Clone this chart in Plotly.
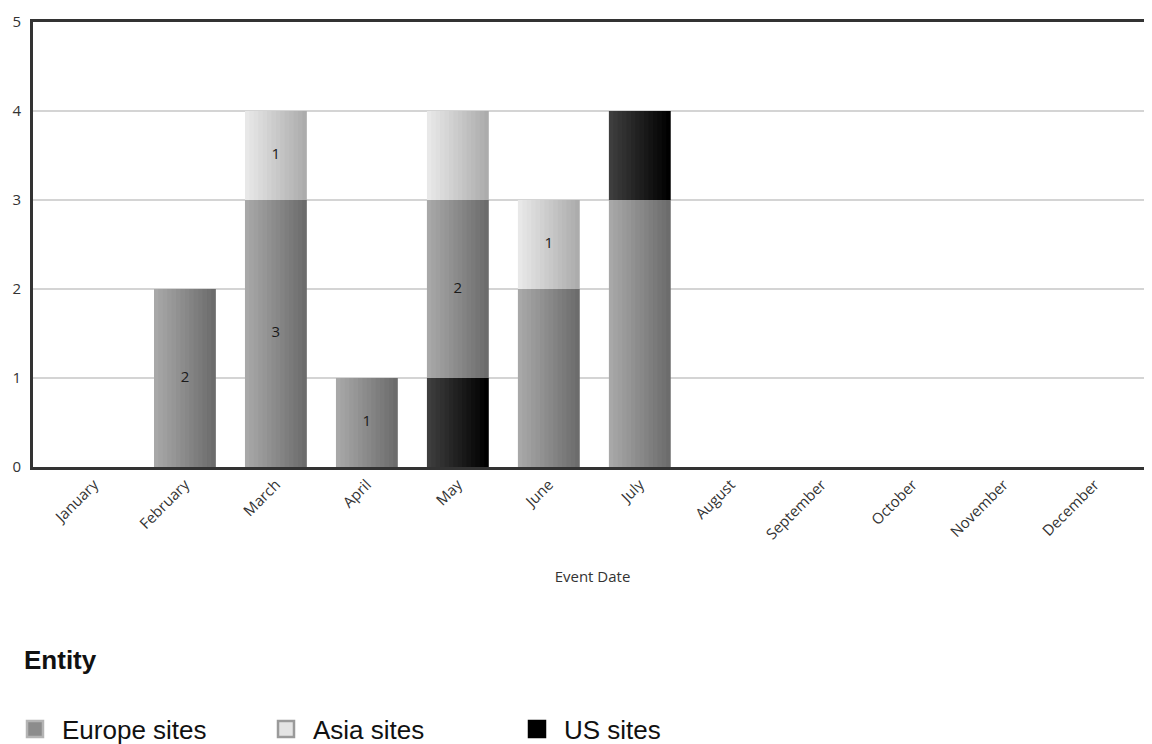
import plotly.graph_objects as go

# ---------------- data ----------------
months = ["January", "February", "March", "April", "May", "June",
          "July", "August", "September", "October", "November", "December"]
europe = [0, 2, 3, 1, 2, 2, 3, 0, 0, 0, 0, 0]
asia   = [0, 0, 1, 0, 1, 1, 0, 0, 0, 0, 0, 0]
us     = [0, 0, 0, 0, 1, 0, 1, 0, 0, 0, 0, 0]
europe_labels = ["", "2", "3", "1", "2", "", "", "", "", "", "", ""]
asia_labels   = ["", "", "1", "", "", "1", "", "", "", "", "", ""]
us_labels     = ["", "", "", "", "", "", "", "", "", "", "", ""]
series_names = ["Europe sites", "Asia sites", "US sites"]
# stacking order (bottom -> top) per month; default order otherwise
default_order = ["Europe sites", "Asia sites", "US sites"]
special_order = {"May": ["US sites", "Europe sites", "Asia sites"]}

values = {"Europe sites": europe, "Asia sites": asia, "US sites": us}
labels = {"Europe sites": europe_labels, "Asia sites": asia_labels, "US sites": us_labels}

# ---------------- style ----------------
grad = {
    "Europe sites": ((168, 168, 168), (108, 108, 108)),
    "Asia sites": ((232, 232, 232), (172, 172, 172)),
    "US sites": ((62, 62, 62), (0, 0, 0)),
}
legend_style = {
    "Europe sites": ("#8c8c8c", "#b4b4b4"),
    "Asia sites": ("#e4e4e4", "#9a9a9a"),
    "US sites": ("#000000", "#000000"),
}
BAR_W = 0.68
N = 14

# compute bases from the stacking order
bases = {s: [0] * len(months) for s in series_names}
for i, m in enumerate(months):
    order = special_order.get(m, default_order)
    acc = 0
    for s in order:
        bases[s][i] = acc
        acc += values[s][i]

fig = go.Figure()

def lerp(c1, c2, t):
    return "rgb(%d,%d,%d)" % tuple(round(a + (b - a) * t) for a, b in zip(c1, c2))

for s in series_names:
    c1, c2 = grad[s]
    w = BAR_W / N
    for k in range(N):
        fig.add_trace(go.Bar(
            x=months, y=values[s], base=bases[s],
            width=w * (1.0 if k == N - 1 else 1.25),
            offset=-BAR_W / 2 + k * w,
            marker=dict(color=lerp(c1, c2, k / (N - 1)), line=dict(width=0)),
            showlegend=False, hoverinfo="skip", legendgroup=s,
        ))

# legend-only entries
for s in series_names:
    fc, lc = legend_style[s]
    fig.add_trace(go.Scatter(
        x=[None], y=[None], name=s, legendgroup=s, mode="markers",
        marker=dict(symbol="square", size=16, color=fc, line=dict(color=lc, width=2.5)),
    ))

# segment labels
for s in series_names:
    ys = [bases[s][i] + values[s][i] / 2 for i in range(len(months))]
    fig.add_trace(go.Scatter(
        x=months, y=ys, text=labels[s], mode="text",
        textfont=dict(family="Open Sans", size=15, color="#1a1a1a"),
        showlegend=False, hoverinfo="skip",
    ))

fig.update_layout(
    width=1144, height=736,
    margin=dict(l=25, r=0, t=14, b=277, autoexpand=False),
    paper_bgcolor="white", plot_bgcolor="white",
    barmode="overlay",
    font=dict(family="Open Sans", color="#333333"),
    xaxis=dict(
        type="category", categoryorder="array", categoryarray=months,
        range=[-0.67, 11.63], automargin=False,
        showline=True, linecolor="#333333", linewidth=3, mirror=True,
        showgrid=False, ticks="", tickangle=-45,
        tickfont=dict(family="Open Sans", size=15, color="#333333"),
        title=dict(text="Event Date", standoff=30,
                   font=dict(family="Open Sans", size=15, color="#333333")),
    ),
    yaxis=dict(
        range=[0, 5], dtick=1, showline=True, linecolor="#333333", linewidth=3,
        showgrid=True, gridcolor="#d4d4d4", gridwidth=1.5, zeroline=False,
        automargin=False, ticks="", ticklabelstandoff=6,
        tickfont=dict(family="Open Sans", size=15, color="#333333"),
    ),
    legend=dict(
        orientation="h", xref="container", yref="container",
        x=0, y=0.0204, xanchor="left", yanchor="middle",
        font=dict(family="Liberation Sans", size=26, color="#111111"),
        entrywidth=192, entrywidthmode="pixels", itemsizing="trace",
        itemwidth=44, traceorder="normal", bgcolor="rgba(0,0,0,0)",
    ),
    annotations=[dict(
        text="<b>Entity</b>", xref="paper", yref="paper",
        x=-(25 - 14) / 1119, y=-(652 - 459) / 445, xanchor="left", yanchor="middle",
        showarrow=False,
        font=dict(family="Liberation Sans", size=26, color="#111111"),
    )],
)

fig.write_html("out.html")
